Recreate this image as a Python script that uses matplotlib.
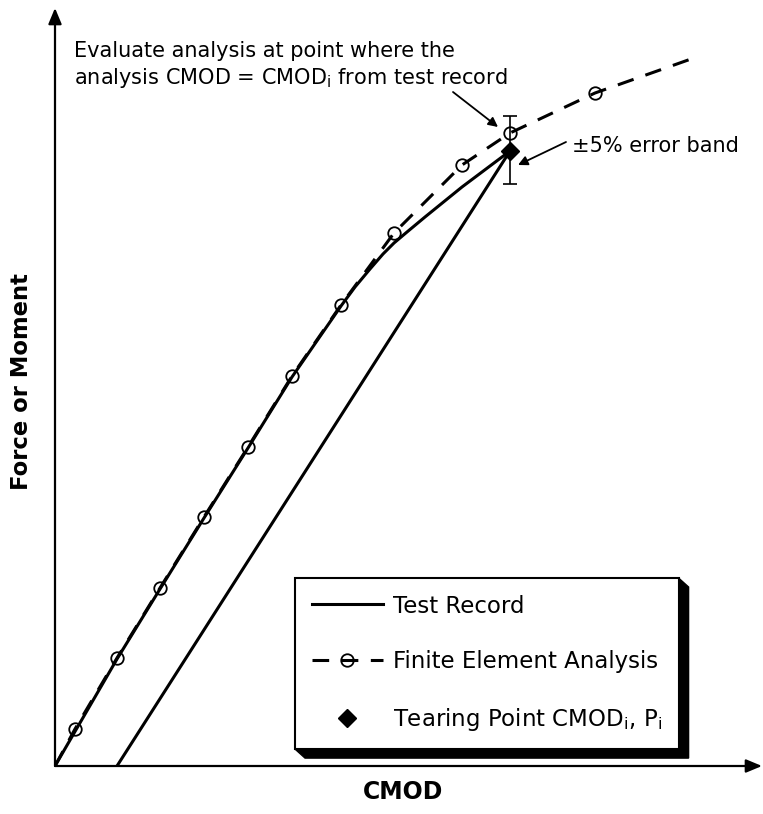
import matplotlib
matplotlib.use("Agg")
import matplotlib.pyplot as plt
from matplotlib.lines import Line2D
from matplotlib.patches import Polygon

plt.rcParams["font.family"] = ["DejaVu Sans"]
plt.rcParams["lines.scale_dashes"] = False

# values (CMOD and load, arbitrary units)
fea_x = [0.20, 0.62, 1.05, 1.49, 1.93, 2.37, 2.86, 3.39, 4.07, 4.55, 5.40]
fea_y = [0.37, 1.08, 1.78, 2.49, 3.19, 3.90, 4.61, 5.33, 6.01, 6.33, 6.73]
fea_line_x = [0.0] + fea_x + [6.36]
fea_line_y = [0.0] + fea_y + [7.07]

test_x = [0.0, 0.62, 1.05, 1.49, 1.93, 2.37, 2.86, 3.00, 3.15, 3.28, 3.39,
          3.52, 3.70, 4.07, 4.35, 4.55]
test_y = [0.0, 1.07, 1.77, 2.48, 3.18, 3.89, 4.60, 4.79, 4.97, 5.12, 5.23,
          5.34, 5.49, 5.79, 6.00, 6.15]

unload_x = [4.55, 0.62]
unload_y = [6.15, 0.0]

tear_x = 4.55
tear_y = 6.15
band_low = 5.82
band_high = 6.50

labels = ["Test Record", "Finite Element Analysis",
          "Tearing Point CMOD$_\\mathrm{i}$, P$_\\mathrm{i}$"]

fig = plt.figure(figsize=(7.63, 8.14), dpi=100)
ax = fig.add_axes([55 / 763, 48 / 814, 707 / 763, 758 / 814])
ax.set_xlim(0, 7.07)
ax.set_ylim(0, 7.58)
ax.patch.set_visible(False)
for s in ax.spines.values():
    s.set_visible(False)
ax.set_xticks([])
ax.set_yticks([])

# axes drawn as arrows
arrow_kw = dict(arrowstyle="-|>,head_length=0.6,head_width=0.25", color="black",
                lw=1.6, mutation_scale=16, shrinkA=0, shrinkB=0)
ax.annotate("", xy=(1, 0), xytext=(0, 0), xycoords="axes fraction",
            arrowprops=arrow_kw, annotation_clip=False)
ax.annotate("", xy=(0, 1), xytext=(0, 0), xycoords="axes fraction",
            arrowprops=arrow_kw, annotation_clip=False)

dash = (0, (12, 9))
ax.plot(fea_line_x, fea_line_y, color="black", lw=2.2, ls=dash, zorder=2)
ax.plot(fea_x, fea_y, ls="none", marker="o", ms=9, mfc="none", mec="black",
        mew=1.3, zorder=3)
ax.plot(test_x, test_y, color="black", lw=2.2, zorder=2)
ax.plot(unload_x, unload_y, color="black", lw=2.2, zorder=2)
ax.errorbar([tear_x], [tear_y], yerr=[[tear_y - band_low], [band_high - tear_y]],
            fmt="none", ecolor="black", elinewidth=1.2, capsize=5, capthick=1.2,
            zorder=3)
ax.plot([tear_x], [tear_y], ls="none", marker="D", ms=9.5, color="black", zorder=4)

# notes
note_kw = dict(fontsize=15, color="black", ha="left", va="baseline")
ax.text(0.19, 7.09, "Evaluate analysis at point where the", **note_kw)
ax.text(0.19, 6.82, "analysis CMOD = CMOD$_\\mathrm{i}$ from test record", **note_kw)
ax.text(5.17, 6.14, "\u00b15% error band", **note_kw)

pointer = dict(arrowstyle="-|>", color="black", lw=1.3, mutation_scale=14,
               shrinkA=0, shrinkB=0)
ax.annotate("", xy=(4.43, 6.39), xytext=(3.98, 6.74), arrowprops=pointer)
ax.annotate("", xy=(4.63, 6.01), xytext=(5.11, 6.24), arrowprops=pointer)

ax.text(0.492, -0.034, "CMOD", transform=ax.transAxes, fontsize=17,
        fontweight="bold", ha="center", va="center")
fig.text(22 / 763, 1 - 382 / 814, "Force or Moment", rotation=90, fontsize=16.3,
         fontweight="bold", ha="center", va="center")

handles = [
    Line2D([], [], color="black", lw=2.2),
    Line2D([], [], color="black", lw=2.2, ls=dash, marker="o", ms=9,
           mfc="none", mew=1.3),
    Line2D([], [], color="black", ls="none", marker="D", ms=9.5),
]
leg = ax.legend(handles, labels, loc="upper left", bbox_to_anchor=(0.3395, 0.248),
                bbox_transform=ax.transAxes, borderaxespad=0, borderpad=0.72,
                handlelength=3.1, handletextpad=0.45, labelspacing=1.42,
                fontsize=16.5, fancybox=False, edgecolor="black", framealpha=1)
leg.get_frame().set_linewidth(1.5)

# block shadow behind the legend box
fig.canvas.draw()
bb = leg.get_window_extent()
dx, dy = 10, 9
corners = [(bb.x0, bb.y1), (bb.x1, bb.y1), (bb.x1 + dx, bb.y1 - dy),
           (bb.x1 + dx, bb.y0 - dy), (bb.x0 + dx, bb.y0 - dy), (bb.x0, bb.y0)]
corners = ax.transAxes.inverted().transform(corners)
ax.add_patch(Polygon(corners, closed=True, fc="black", ec="black",
                     transform=ax.transAxes, clip_on=False, zorder=4.5))

fig.savefig("out.png", dpi=100)
